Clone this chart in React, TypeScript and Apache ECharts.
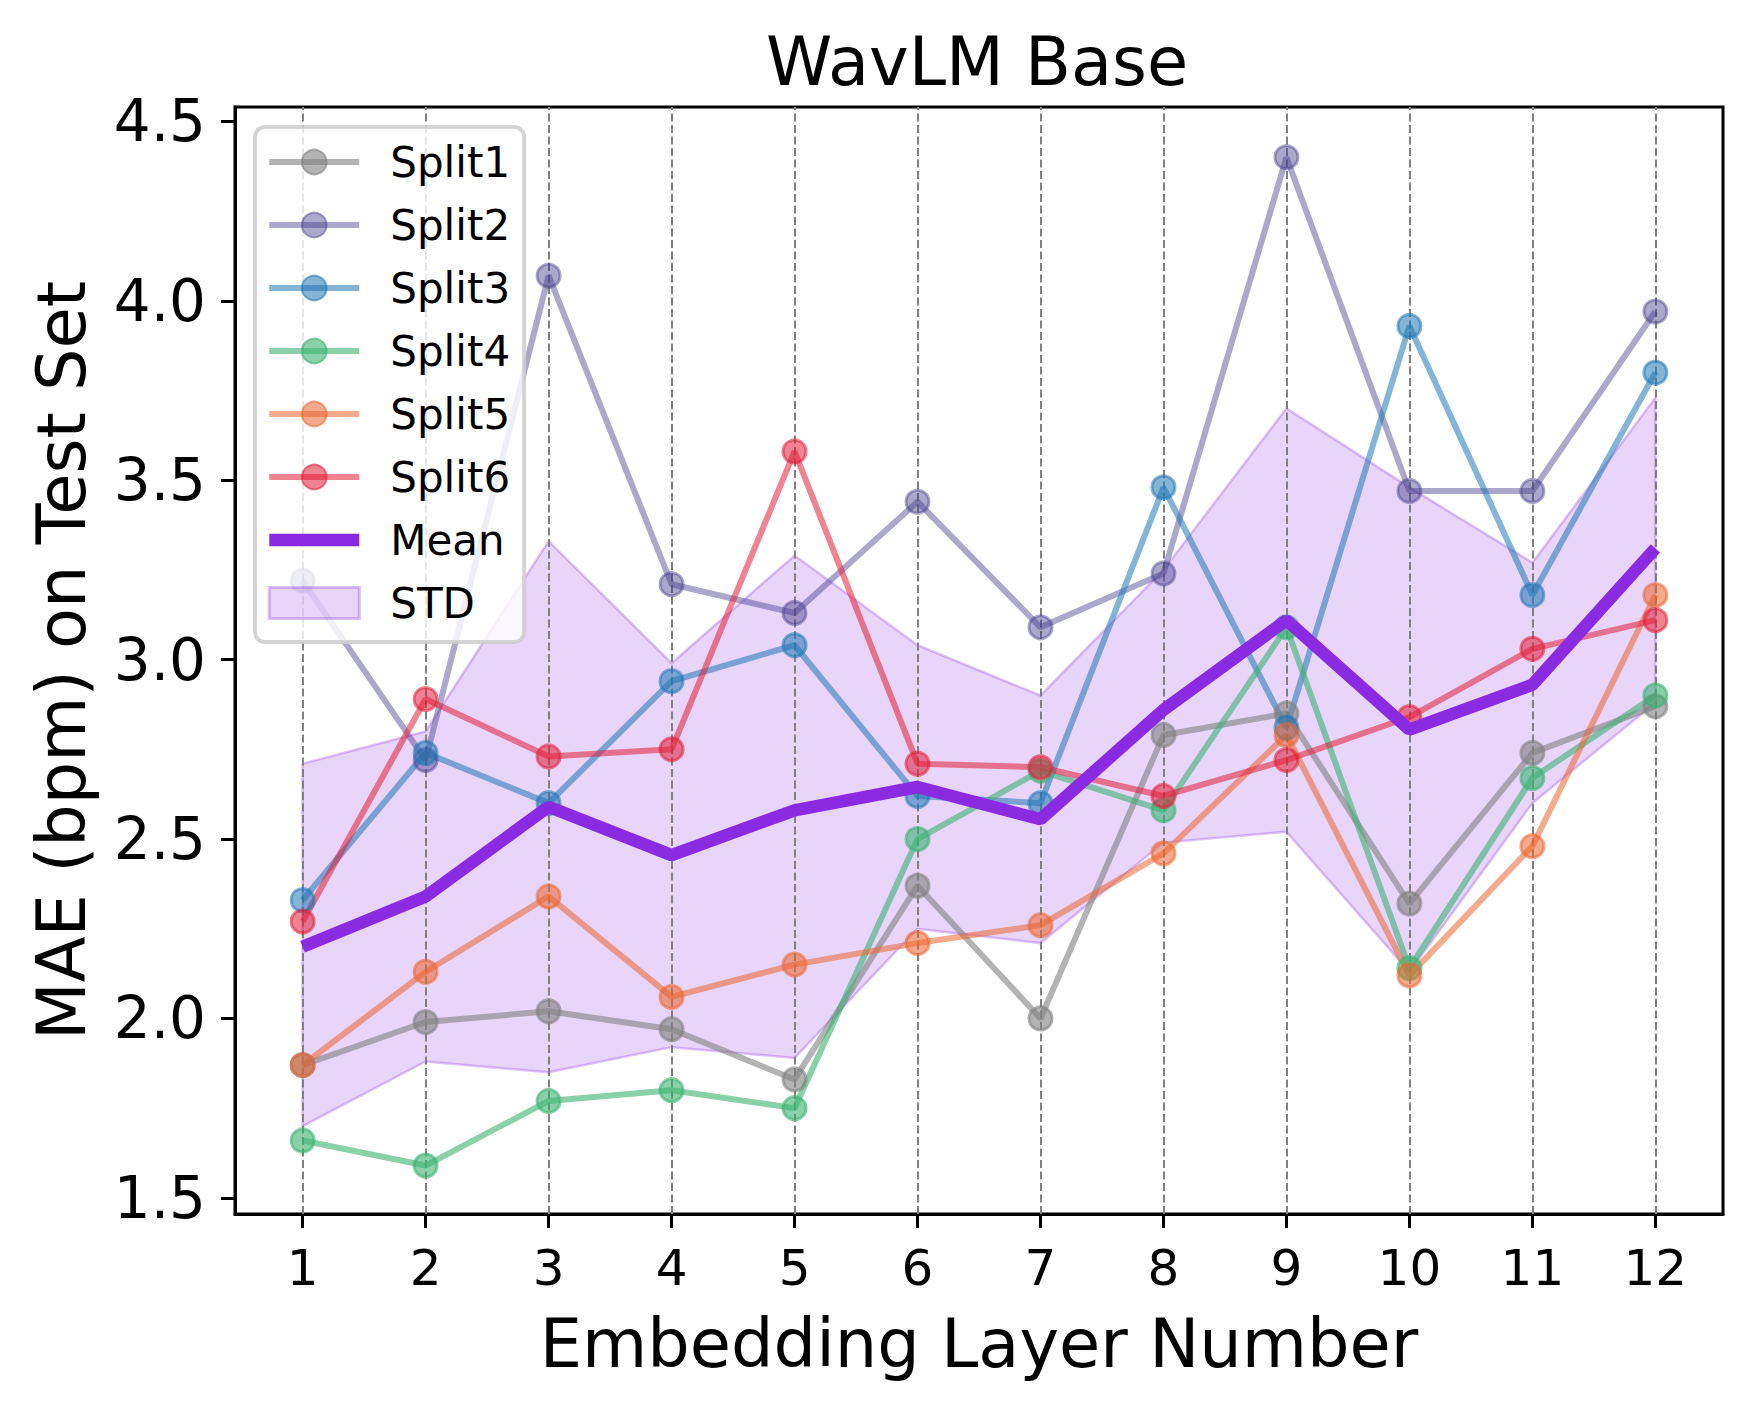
import React, { useEffect, useRef } from "react";
import * as echarts from "echarts";

const layers = [1, 2, 3, 4, 5, 6, 7, 8, 9, 10, 11, 12];
const yTicks = [1.5, 2.0, 2.5, 3.0, 3.5, 4.0, 4.5];

const split1 = [1.87, 1.99, 2.02, 1.97, 1.83, 2.37, 2.0, 2.79, 2.85, 2.32, 2.74, 2.87];
const split2 = [3.22, 2.72, 4.07, 3.21, 3.13, 3.44, 3.09, 3.24, 4.4, 3.47, 3.47, 3.97];
const split3 = [2.33, 2.74, 2.6, 2.94, 3.04, 2.62, 2.6, 3.48, 2.81, 3.93, 3.18, 3.8];
const split4 = [1.66, 1.59, 1.77, 1.8, 1.75, 2.5, 2.69, 2.58, 3.09, 2.14, 2.67, 2.9];
const split5 = [1.87, 2.13, 2.34, 2.06, 2.15, 2.21, 2.26, 2.46, 2.79, 2.12, 2.48, 3.18];
const split6 = [2.27, 2.89, 2.73, 2.75, 3.58, 2.71, 2.7, 2.62, 2.72, 2.84, 3.03, 3.11];
const meanVals = [2.2, 2.34, 2.59, 2.455, 2.58, 2.645, 2.555, 2.86, 3.11, 2.805, 2.93, 3.31];
const stdUpper = [2.71, 2.8, 3.33, 2.99, 3.29, 3.04, 2.9, 3.25, 3.7, 3.48, 3.27, 3.73];
const stdLower = [1.7, 1.88, 1.85, 1.92, 1.89, 2.25, 2.21, 2.49, 2.52, 2.13, 2.6, 2.88];

const splitNames = ["Split1", "Split2", "Split3", "Split4", "Split5", "Split6"];
const splitValues = [split1, split2, split3, split4, split5, split6];
const splitColors = [
  [128, 128, 128, 0.6],
  [72, 61, 139, 0.45],
  [31, 119, 180, 0.55],
  [60, 179, 113, 0.6],
  [235, 100, 45, 0.55],
  [225, 30, 55, 0.55],
];

const FONT = "DejaVu Sans";

export default function App() {
  const ref = useRef<HTMLDivElement>(null);

  useEffect(() => {
    if (!ref.current) return;
    const chart = echarts.init(ref.current, undefined, { renderer: "svg" });

    const rgba = (c: number[]) => `rgba(${c[0]},${c[1]},${c[2]},${c[3]})`;

    const splitSeries = splitNames.map((name, k) => ({
      name,
      type: "line",
      data: layers.map((x, i) => [x, splitValues[k][i]]),
      symbol: "circle",
      symbolSize: 23,
      z: 3,
      lineStyle: { color: rgba(splitColors[k]), width: 6 },
      itemStyle: {
        color: rgba(splitColors[k]),
        borderColor: rgba(splitColors[k]),
        borderWidth: 3,
      },
      emphasis: { disabled: true },
    }));

    const option: any = {
      animation: false,
      backgroundColor: "#ffffff",
      textStyle: { fontFamily: FONT, color: "#000" },
      title: {
        text: "WavLM Base",
        left: 766,
        top: 28,
        padding: 0,
        textStyle: { fontSize: 67, fontWeight: "normal", color: "#000", fontFamily: FONT },
      },
      grid: {
        left: 235,
        right: 29,
        top: 107,
        bottom: 191,
        show: true,
        borderColor: "#000",
        borderWidth: 3,
        backgroundColor: "transparent",
      },
      legend: {
        orient: "vertical",
        left: 255,
        top: 127,
        padding: [11, 14, 15, 8],
        itemWidth: 90,
        itemHeight: 31,
        itemGap: 15,
        selectedMode: false,
        backgroundColor: "rgba(255,255,255,0.8)",
        borderColor: "rgba(204,204,204,0.85)",
        borderWidth: 4,
        borderRadius: 10,
        lineStyle: { width: 6 },
        textStyle: {
          fontSize: 42,
          lineHeight: 48,
          color: "#000",
          fontFamily: FONT,
          padding: [0, 0, 0, 26],
        },
        data: [
          ...splitNames.map((n) => ({ name: n, lineStyle: { width: 6 } })),
          {
            name: "Mean",
            lineStyle: { width: 12.5 },
            itemStyle: { color: "rgba(0,0,0,0)", borderColor: "rgba(0,0,0,0)", borderWidth: 0, opacity: 0 },
          },
          {
            name: "STD",
            icon: "rect",
            itemStyle: {
              color: "rgba(138,43,226,0.2)",
              borderColor: "rgba(138,43,226,0.3)",
              borderWidth: 3,
            },
          },
        ],
      },
      xAxis: {
        type: "value",
        min: 0.45,
        max: 12.55,
        name: "Embedding Layer Number",
        nameLocation: "middle",
        nameGap: 96,
        nameTextStyle: { fontSize: 67, color: "#000", fontFamily: FONT },
        axisLine: { show: true, onZero: false, lineStyle: { color: "#000", width: 3 } },
        axisTick: {
          show: true,
          customValues: layers,
          length: 14,
          inside: false,
          lineStyle: { color: "#000", width: 3 },
        },
        axisLabel: {
          customValues: layers,
          fontSize: 50,
          margin: 29,
          color: "#000",
          fontFamily: FONT,
          formatter: (v: number) => String(v),
        },
        splitLine: { show: false },
      },
      yAxis: {
        type: "value",
        min: 1.455,
        max: 4.54,
        name: "MAE (bpm) on Test Set",
        nameLocation: "middle",
        nameGap: 140,
        nameTextStyle: { fontSize: 67, color: "#000", fontFamily: FONT },
        axisLine: { show: true, onZero: false, lineStyle: { color: "#000", width: 3 } },
        axisTick: {
          show: true,
          customValues: yTicks,
          length: 14,
          inside: false,
          lineStyle: { color: "#000", width: 3 },
        },
        axisLabel: {
          customValues: yTicks,
          fontSize: 58,
          margin: 29,
          color: "#000",
          fontFamily: FONT,
          formatter: (v: number) => v.toFixed(1),
        },
        splitLine: { show: false },
      },
      series: [
        {
          name: "STD",
          type: "custom",
          z: 1,
          silent: true,
          itemStyle: { color: "rgba(138,43,226,0.2)" },
          data: [[layers[0], stdUpper[0]]],
          encode: { x: 0, y: 1 },
          renderItem: (params: any, api: any) => {
            const top = stdUpper.map((v, i) => api.coord([layers[i], v]));
            const bottom = stdLower.map((v, i) => api.coord([layers[i], v])).reverse();
            return {
              type: "polygon",
              shape: { points: top.concat(bottom) },
              style: {
                fill: "rgba(138,43,226,0.2)",
                stroke: "rgba(138,43,226,0.28)",
                lineWidth: 2.5,
              },
            };
          },
          markLine: {
            silent: true,
            z: 2,
            symbol: ["none", "none"],
            label: { show: false },
            emphasis: { disabled: true },
            lineStyle: { color: "#808080", width: 2, type: [8, 3.5] },
            data: layers.map((x) => ({ xAxis: x })),
          },
        },
        ...splitSeries,
        {
          name: "Mean",
          type: "line",
          data: layers.map((x, i) => [x, meanVals[i]]),
          symbol: "none",
          z: 4,
          lineStyle: { color: "#8a2be2", width: 12.5 },
          itemStyle: { color: "#8a2be2" },
          emphasis: { disabled: true },
        },
      ],
    };

    chart.setOption(option);
    return () => chart.dispose();
  }, []);

  return (
    <div
      ref={ref}
      style={{ position: "absolute", left: 0, top: 0, width: 1752, height: 1405, background: "#fff" }}
    />
  );
}
